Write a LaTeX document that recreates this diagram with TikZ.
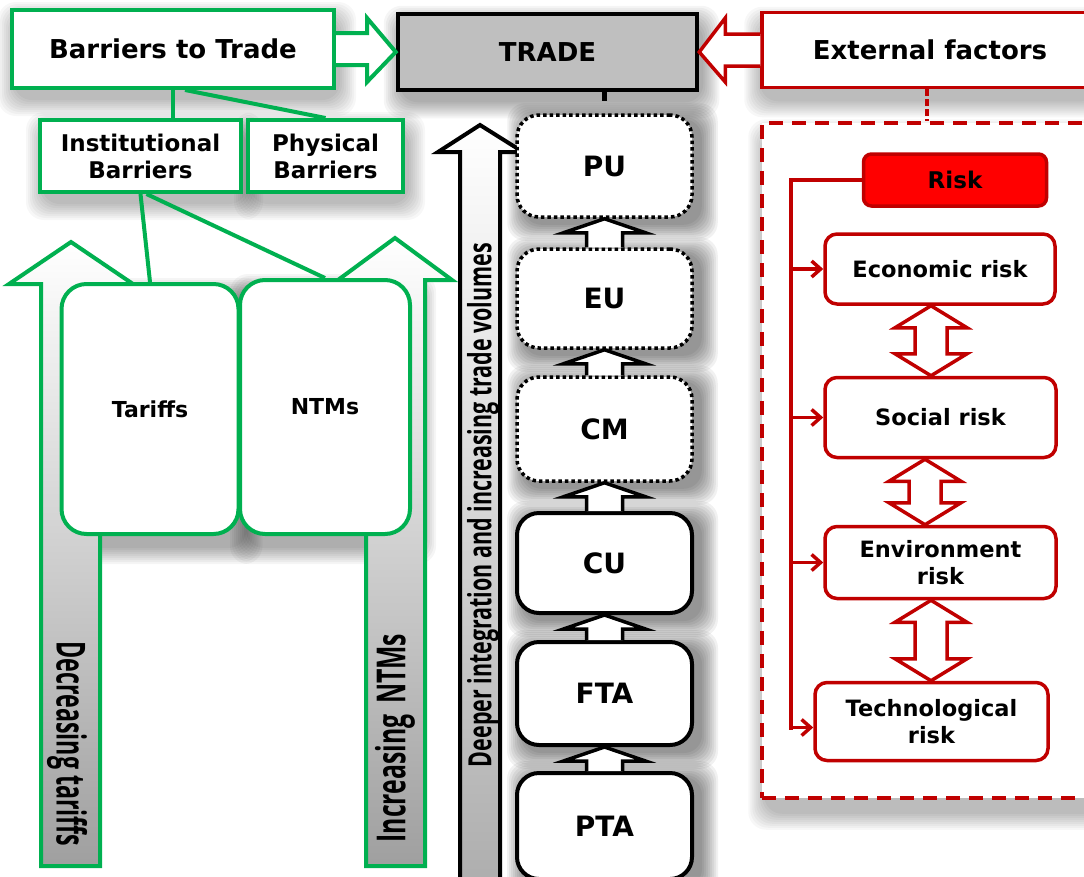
\documentclass[tikz,border=0pt]{standalone}
\usepackage{fontspec}
\setmainfont{DejaVu Sans}
\newfontfamily\condfont{Open Sans}
\usetikzlibrary{calc,arrows.meta}
\pgfdeclarelayer{bg}
\pgfsetlayers{bg,main}
\definecolor{gr}{HTML}{00B050}
\definecolor{dr}{HTML}{C00000}
\definecolor{br}{HTML}{FF0000}
\definecolor{tg}{HTML}{BFBFBF}
\newcommand\smallup[2]{%
  \draw[smallarr] ($(#1.north)+(-18,0)$) -- ($(#2.south)+(-18,14)$) -- ($(#2.south)+(-41,14)$) -- (#2.south) -- ($(#2.south)+(41,14)$) -- ($(#2.south)+(18,14)$) -- ($(#1.north)+(18,0)$);}
\newcommand\dblarr[3]{%
  \coordinate (T) at (#3 |- #1.south);
  \coordinate (B) at (#3 |- #2.north);
  \draw[dblarrst] (T) -- ($(T)+(36,22)$) -- ($(T)+(16,22)$) -- ($(B)+(16,-22)$) -- ($(B)+(36,-22)$) -- (B) -- ($(B)+(-36,-22)$) -- ($(B)+(-16,-22)$) -- ($(T)+(-16,22)$) -- ($(T)+(-36,22)$) -- cycle;}
\newcommand\softsh[4]{% node, dx, dy, opacity
  \begin{pgfonlayer}{bg}
  \foreach \k in {0,2,...,16}{
    \fill[black, opacity=#4, rounded corners=18pt] ($(#1.north west)+(#2-\k,#3-\k)$) rectangle ($(#1.south east)+(#2+\k,#3+\k)$);}
  \end{pgfonlayer}}
\begin{document}
\begin{tikzpicture}[x=1pt,y=-1pt,
  gbox/.style={draw=gr, line width=4pt, fill=white, align=center, inner sep=0pt},
  rbox/.style={draw=dr, line width=3.5pt, fill=white, rounded corners=12pt, align=center, inner sep=0pt, font=\bfseries\fontsize{22.5}{27}\selectfont},
  sbox/.style={draw=black, line width=4pt, fill=white, rounded corners=22pt, minimum width=175pt, inner sep=0pt, font=\bfseries\fontsize{28}{30}\selectfont},
  dotbox/.style={sbox, line width=3.5pt, dash pattern=on 3.5pt off 3pt},
  hfont/.style={font=\bfseries\fontsize{26}{30}\selectfont},
  gline/.style={draw=gr, line width=4pt},
  bigg/.style={draw=gr, line width=4pt, top color=white, bottom color=gray!75},
  bigk/.style={draw=black, line width=4pt, top color=white, bottom color=gray!65},
  smallarr/.style={draw=black, line width=3.5pt, fill=white},
  dblarrst/.style={draw=dr, line width=3.5pt, fill=white},
  rline/.style={draw=dr, line width=3.5pt},
  fatg/.style={draw=gr, line width=4pt, fill=white, line join=miter},
  fatr/.style={draw=dr, line width=3.5pt, fill=white, line join=miter},
  rot/.style={font=\condfont\bfseries},
]
\useasboundingbox (0,0) rectangle (1084,876);
\clip (0,0) rectangle (1084,876);
\begin{pgfonlayer}{bg}
\fill[white] (0,0) rectangle (1084,876);
\end{pgfonlayer}

% big vertical arrows
\draw[bigg] (41,866) -- (41,284) -- (9,284) -- (71,242) -- (133,284) -- (100,284) -- (100,866) -- cycle;
\draw[bigg] (366,866) -- (366,280) -- (338,280) -- (395,238) -- (452,280) -- (425,280) -- (425,866) -- cycle;
\draw[bigk] (460,900) -- (460,152) -- (438,152) -- (480,125) -- (523,152) -- (500,152) -- (500,900) -- cycle;

\node[rotate=-90, rot] (dt) at (67,744) {\scalebox{0.58}[1]{\fontsize{40}{40}\selectfont Decreasing tariffs}};
\node[rotate=90, rot] (in) at (395,738) {\scalebox{0.62}[1]{\fontsize{40}{40}\selectfont Increasing\, NTMs}};
\node[rotate=90, rot] (di) at (483,505) {\scalebox{0.67}[1]{\fontsize{32}{32}\selectfont Deeper integration and increasing trade volumes}};

% top row
\node[gbox, hfont, minimum width=322pt, minimum height=78pt] (bar) at (173,49) {Barriers to Trade};
\node[draw=black, line width=4.5pt, fill=tg, hfont, minimum width=299pt, minimum height=76pt] (trade) at (547.5,52) {TRADE};
\node[draw=dr, line width=3.5pt, fill=white, hfont, minimum width=336pt, minimum height=75pt] (ext) at (930,50) {External factors};

\draw[fatg] ($(bar.east)+(0,-16)$) -- ($(bar.east)+(31,-16)$) -- ($(bar.east)+(31,-31)$) -- (trade.west) -- ($(bar.east)+(31,33)$) -- ($(bar.east)+(31,16)$) -- ($(bar.east)+(0,16)$);
\draw[fatr] ($(ext.west)+(0,-16)$) -- ($(ext.west)+(-35,-16)$) -- ($(ext.west)+(-35,-32)$) -- (trade.east) -- ($(ext.west)+(-35,32)$) -- ($(ext.west)+(-35,16)$) -- ($(ext.west)+(0,16)$);

% barriers
\node[gbox, minimum width=201pt, minimum height=72pt, font=\bfseries\fontsize{23}{27}\selectfont] (inst) at (140.5,156) {Institutional\\Barriers};
\node[gbox, minimum width=155pt, minimum height=72pt, font=\bfseries\fontsize{23}{27}\selectfont] (phys) at (325.5,156) {Physical\\Barriers};
\node[gbox, rounded corners=25pt, minimum width=177pt, minimum height=250pt, font=\bfseries\fontsize{22}{24}\selectfont] (tar) at (150,409) {Tariffs};
\node[gbox, rounded corners=25pt, minimum width=170pt, minimum height=254pt, font=\bfseries\fontsize{22}{24}\selectfont] (ntm) at (325,407) {NTMs};

\draw[gline] (bar.south) -- (bar.south |- inst.north);
\draw[gline] ($(bar.south)+(12,0)$) -- (phys.north);
\draw[gline] (inst.south) -- (tar.north);
\draw[gline] ($(inst.south)+(6,0)$) -- (ntm.north);

% stack
\node[dotbox, minimum height=102pt] (pu) at (604.5,166) {PU};
\node[dotbox, minimum height=99pt] (eu) at (604.5,298.5) {EU};
\node[dotbox, minimum height=104pt] (cm) at (604.5,429) {CM};
\node[sbox, minimum height=100pt] (cu) at (604.5,563) {CU};
\node[sbox, minimum height=103pt] (fta) at (604.5,693.5) {FTA};
\node[sbox, minimum height=106pt] (pta) at (604.5,826) {PTA};
\smallup{eu}{pu}
\smallup{cm}{eu}
\smallup{cu}{cm}
\smallup{fta}{cu}
\smallup{pta}{fta}
\draw[line width=4.5pt, shorten >=12pt] (trade.south -| pu.north) -- (pu.north);

% risk
\node[draw=dr, fill=white, line width=3.5pt, dash pattern=on 14pt off 9pt, minimum width=340pt, minimum height=675pt] (dbox) at (932,460.5) {};
\draw[dr, line width=3.5pt, dash pattern=on 7pt off 3pt] (ext.south -| 927,0) -- (dbox.north -| 927,0);
\node[draw=dr, line width=3.5pt, fill=br, rounded corners=8pt, minimum width=183pt, minimum height=52pt, font=\bfseries\fontsize{23}{24}\selectfont] (risk) at (955,180) {Risk};
\node[rbox, minimum width=230pt, minimum height=70pt] (econ) at (940,269) {Economic risk};
\node[rbox, minimum width=231pt, minimum height=80pt] (soc) at (940.5,417.5) {Social risk};
\node[rbox, minimum width=231pt, minimum height=72pt] (env) at (940.5,562.5) {Environment\\risk};
\node[rbox, minimum width=233pt, minimum height=78pt] (tech) at (931.5,721.5) {Technological\\risk};

\coordinate (trunk) at (791,730);
\draw[rline] (risk.west) -| (trunk);
\draw[rline, -{Straight Barb[length=9pt,width=16pt]}] (econ.west -| trunk) -- (econ.west);
\draw[rline, -{Straight Barb[length=9pt,width=16pt]}] (soc.west -| trunk) -- (soc.west);
\draw[rline, -{Straight Barb[length=9pt,width=16pt]}] (env.west -| trunk) -- (env.west);
\draw[rline, -{Straight Barb[length=9pt,width=16pt]}] ($(tech.west -| trunk)+(0,6)$) -- ($(tech.west)+(0,6)$);

\coordinate (xa) at (931,0);
\coordinate (xb) at (925,0);
\dblarr{econ}{soc}{xa}
\dblarr{soc}{env}{xb}
\dblarr{env}{tech}{xa}

% soft shadows
\softsh{bar}{4}{10}{0.03}
\softsh{trade}{4}{10}{0.04}
\softsh{ext}{0}{12}{0.03}
\softsh{inst}{4}{10}{0.03}
\softsh{phys}{4}{10}{0.03}
\softsh{tar}{6}{12}{0.04}
\softsh{ntm}{8}{12}{0.04}
\softsh{pu}{8}{6}{0.055}
\softsh{eu}{8}{6}{0.055}
\softsh{cm}{8}{6}{0.055}
\softsh{cu}{8}{6}{0.055}
\softsh{fta}{8}{6}{0.055}
\softsh{pta}{8}{6}{0.055}
\softsh{dbox}{4}{14}{0.03}
\end{tikzpicture}
\end{document}
